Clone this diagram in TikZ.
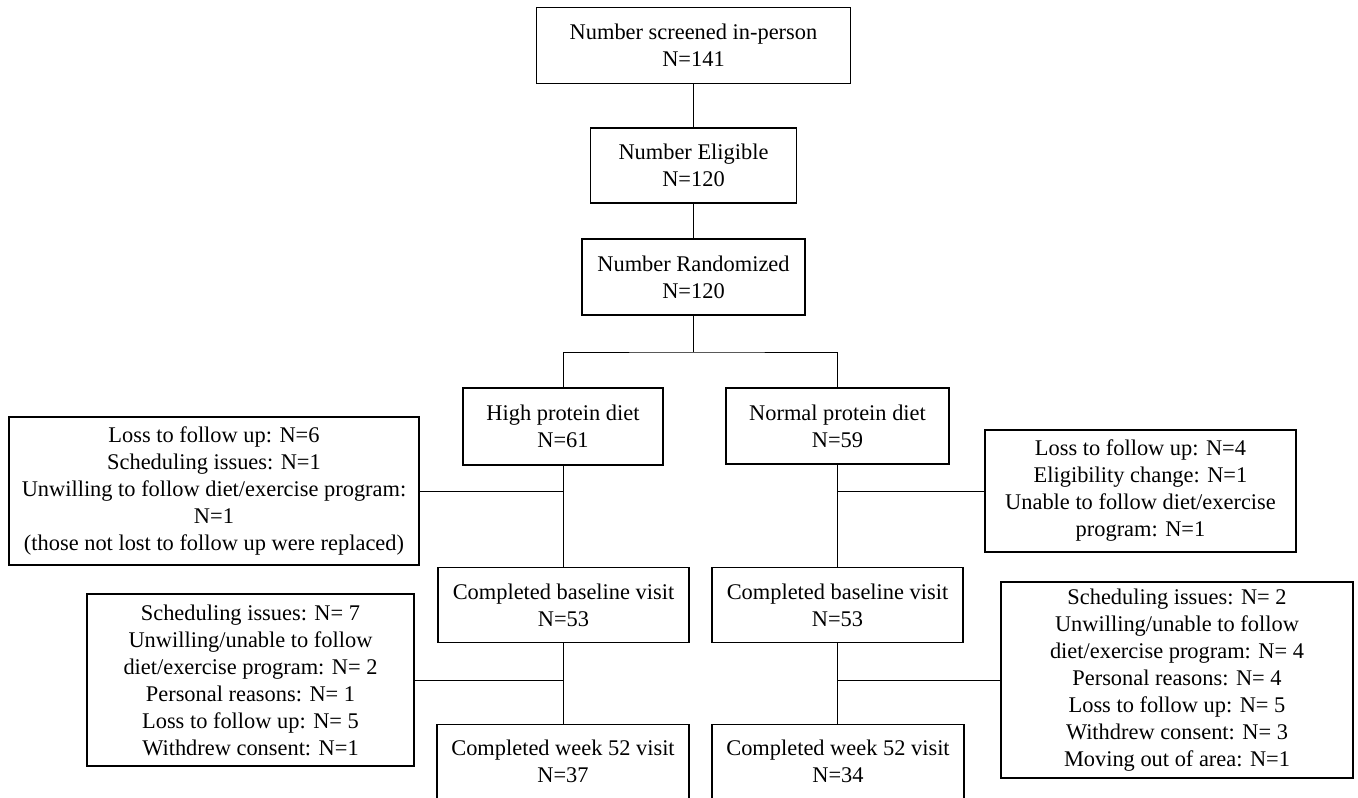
\documentclass[tikz,border=0pt]{standalone}
\usepackage{fontspec}
\setmainfont{Liberation Serif}
\begin{document}
\begin{tikzpicture}[x=1pt,y=1pt,
  box/.style={draw, line width=1.3pt, align=center, inner sep=0pt,
    font=\fontsize{22.4}{27}\selectfont},
  conn/.style={line width=0.8pt}]
\clip (0,0) rectangle (1358,-798);
\fill[white] (0,0) rectangle (1358,-798);
\node[box, minimum width=314, minimum height=76] (top) at (693.5,-45.5) {Number screened in-person\\N=141};
\node[box, minimum width=206, minimum height=75] (elig) at (693.5,-165.5) {Number Eligible\\N=120};
\node[box, minimum width=223, minimum height=76] (rand) at (693.5,-277) {Number Randomized\\N=120};
\node[box, minimum width=200, minimum height=77] (high) at (563,-426.5) {High protein diet\\N=61};
\node[box, minimum width=223, minimum height=76] (norm) at (837.5,-426) {Normal protein diet\\N=59};
\node[box, minimum width=410, minimum height=148] (lx1) at (214,-491) {Loss to follow up: N=6\\Scheduling issues: N=1\\Unwilling to follow diet/exercise program:\\N=1\\(those not lost to follow up were replaced)};
\node[box, minimum width=311, minimum height=122] (rx1) at (1140.5,-491) {Loss to follow up: N=4\\Eligibility change: N=1\\Unable to follow diet/exercise\\program: N=1};
\node[box, minimum width=251, minimum height=75] (basel) at (563.5,-605) {Completed baseline visit\\N=53};
\node[box, minimum width=251, minimum height=75] (baser) at (837.5,-605) {Completed baseline visit\\N=53};
\node[box, minimum width=327, minimum height=172] (lx2) at (250.5,-680) {Scheduling issues: N= 7\\Unwilling/unable to follow\\diet/exercise program: N= 2\\Personal reasons: N= 1\\Loss to follow up: N= 5\\Withdrew consent: N=1};
\node[box, minimum width=352, minimum height=196] (rx2) at (1177,-680) {Scheduling issues: N= 2\\Unwilling/unable to follow\\diet/exercise program: N= 4\\Personal reasons: N= 4\\Loss to follow up: N= 5\\Withdrew consent: N= 3\\Moving out of area: N=1};
\node[box, minimum width=252, anchor=north, inner ysep=15pt, text depth=80pt] (w52l) at (563,-724) {Completed week 52 visit\\N=37};
\node[box, minimum width=252, anchor=north, inner ysep=15pt, text depth=80pt] (w52r) at (838,-724) {Completed week 52 visit\\N=34};
\coordinate (split) at (693.5,-352);
\draw[conn] (top.south) -- (elig.north);
\draw[conn] (elig.south) -- (rand.north);
\draw[conn] (rand.south) -- (split);
\draw[conn] (high.north) |- (split) -| (norm.north);
\draw[conn] (high.south) -- (basel.north -| high.south);
\draw[conn] (norm.south) -- (baser.north -| norm.south);
\draw[conn] (lx1.east) -- (lx1.east -| high.south);
\draw[conn] (rx1.west) -- (rx1.west -| norm.south);
\draw[conn] (basel.south -| high.south) -- (w52l.north -| high.south);
\draw[conn] (baser.south -| norm.south) -- (w52r.north -| norm.south);
\draw[conn] (lx2.east) -- (lx2.east -| high.south);
\draw[conn] (rx2.west) -- (rx2.west -| norm.south);
\end{tikzpicture}
\end{document}
